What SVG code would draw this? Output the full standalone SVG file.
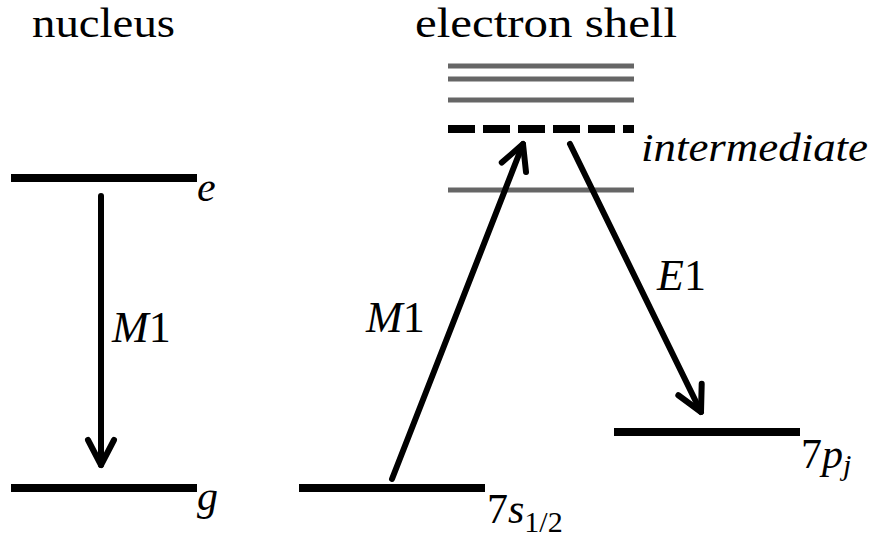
<svg xmlns="http://www.w3.org/2000/svg" width="875" height="545" viewBox="0 0 875 545">
<defs>
<style>
.t{font-family:"Liberation Serif","DejaVu Serif",serif;fill:#000}
.it{font-style:italic}
.lvl{stroke:#000;stroke-width:8;fill:none}
.grey{stroke:#666;stroke-width:5;fill:none}
.dash{stroke:#000;stroke-width:8;stroke-dasharray:27 8;fill:none}
.arr{stroke:#000;stroke-width:6;stroke-linecap:round;fill:none;marker-end:url(#head)}
</style>
<marker id="head" markerUnits="userSpaceOnUse" refX="0" refY="0" markerWidth="60" markerHeight="60" orient="auto" overflow="visible">
<path d="M-25,-13 L0,0 L-25,13" fill="none" stroke="#000" stroke-width="6" stroke-linecap="round" stroke-linejoin="round"/>
</marker>
</defs>
<rect width="875" height="545" fill="#fff"/>
<g id="title-nucleus"><text class="t" x="32" y="37" font-size="42" textLength="143" lengthAdjust="spacingAndGlyphs">nucleus</text></g>
<g id="title-shell"><text class="t" x="415" y="37" font-size="42" textLength="262" lengthAdjust="spacingAndGlyphs">electron shell</text></g>
<g id="level-e"><line class="lvl" x1="11" y1="178" x2="197" y2="178"/><text class="t it" x="197" y="201" font-size="42">e</text></g>
<g id="level-g"><line class="lvl" x1="11" y1="488" x2="197" y2="488"/><text class="t it" x="197" y="510" font-size="42">g</text></g>
<g id="level-7s"><line class="lvl" x1="299" y1="488" x2="485" y2="488"/><text class="t" x="487" y="523" font-size="42">7<tspan class="it">s</tspan><tspan font-size="30" dy="9">1/2</tspan></text></g>
<g id="level-7p"><line class="lvl" x1="614" y1="432" x2="800" y2="432"/><text class="t" x="801" y="468" font-size="42">7<tspan class="it">p</tspan><tspan class="it" font-size="30" dy="7">j</tspan></text></g>
<g id="shell-levels">
<line class="grey" x1="448" y1="66" x2="634" y2="66"/>
<line class="grey" x1="448" y1="79" x2="634" y2="79"/>
<line class="grey" x1="448" y1="100" x2="634" y2="100"/>
<line class="grey" x1="448" y1="190" x2="634" y2="190"/>
</g>
<g id="level-intermediate"><line class="dash" x1="448" y1="129" x2="634" y2="129"/><text class="t it" x="641" y="161" font-size="40" textLength="227" lengthAdjust="spacingAndGlyphs">intermediate</text></g>
<g id="connectors">
<line class="arr" x1="101" y1="196" x2="101" y2="465"/>
<line class="arr" x1="392" y1="479" x2="523" y2="144"/>
<line class="arr" x1="570" y1="144" x2="701" y2="412"/>
</g>
<g id="labels">
<text class="t" x="112" y="342" font-size="44"><tspan class="it">M</tspan>1</text>
<text class="t" x="366" y="332" font-size="44"><tspan class="it">M</tspan>1</text>
<text class="t" x="657" y="290" font-size="44"><tspan class="it">E</tspan>1</text>
</g>
</svg>
